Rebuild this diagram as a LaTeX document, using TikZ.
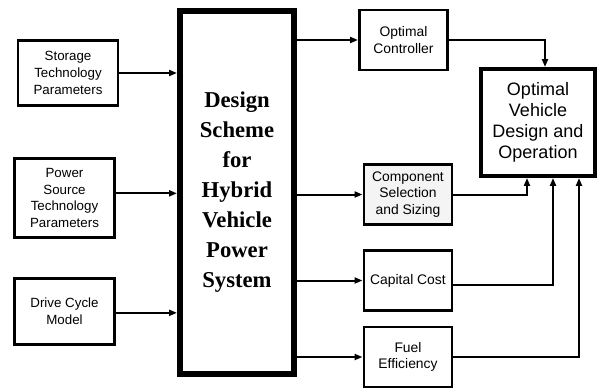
\documentclass[tikz,border=0pt]{standalone}
\usepackage{fontspec}
\setmainfont{Liberation Sans}
\newfontfamily\serifbold{Liberation Serif}
\usepackage{tikz}
\usetikzlibrary{arrows.meta, positioning, calc}
\definecolor{mydark}{RGB}{0,0,0}
\definecolor{mygrey}{RGB}{244,244,244}
\tikzset{
  inblock/.style={rectangle, draw=mydark, fill=white, line width=2.2pt,
    minimum width=75pt, align=center,
    font=\fontsize{10}{12.5}\selectfont, inner sep=0pt},
  outblock/.style={rectangle, draw=mydark, fill=white, line width=2.2pt,
    minimum width=66pt, minimum height=45pt, align=center,
    font=\fontsize{10.4}{12.5}\selectfont, inner sep=0pt},
  mainblock/.style={rectangle, draw=mydark, fill=white, line width=4.5pt,
    minimum width=85.5pt, minimum height=272pt, align=center,
    font=\serifbold\bfseries\fontsize{17}{22.5}\selectfont, inner sep=0pt},
  goalblock/.style={rectangle, draw=mydark, fill=white, line width=3.2pt,
    minimum width=85.5pt, minimum height=80pt, align=center,
    font=\fontsize{13.5}{15.8}\selectfont, inner sep=0pt},
  arrow/.style={-{Triangle[length=6pt,width=4.5pt]}, line width=1.5pt, color=mydark},
  line/.style={line width=1.5pt, color=mydark}
}

\begin{document}
\begin{tikzpicture}[x=0.75pt, y=-0.75pt]
  \useasboundingbox (0,0) rectangle (597,389);

  % Input blocks
  \node[inblock, minimum height=49pt] (stor) at (68,73) {Storage\\Technology\\Parameters};
  \node[inblock, minimum height=59pt] (pow) at (64.5,198) {Power\\Source\\Technology\\Parameters};
  \node[inblock, minimum height=49.5pt] (drv) at (64.5,311.5) {Drive Cycle\\Model};

  % Design scheme
  \node[mainblock] (main) at (237,192.5) {Design\\Scheme\\for\\Hybrid\\Vehicle\\Power\\System};

  % Output blocks
  \node[outblock] (ctrl) at (403.5,40) {Optimal\\Controller};
  \node[outblock, fill=mygrey] (comp) at (408,194.5) {Component\\Selection\\and Sizing};
  \node[outblock] (cost) at (408,280.5) {Capital Cost};
  \node[outblock] (fuel) at (408,357) {Fuel\\Efficiency};

  % Result
  \node[goalblock] (opt) at (538,122.5) {Optimal\\Vehicle\\Design and\\Operation};

  % Inputs to the scheme
  \draw[arrow] (stor.east) -- (stor.east -| main.west);
  \draw[arrow] ([yshift=3.5pt]pow.east) -- ([yshift=3.5pt]pow.east -| main.west);
  \draw[arrow] ([yshift=-1pt]drv.east) -- ([yshift=-1pt]drv.east -| main.west);

  % Scheme to outputs
  \foreach \n in {ctrl, comp, cost, fuel}
    \draw[arrow] (main.east |- \n.west) -- (\n.west);

  % Outputs to result
  \draw[arrow] (ctrl.east) -| ([xshift=5.25pt]opt.south |- opt.north);
  \draw[arrow] (comp.east) -| ([xshift=-8.25pt]opt.south);
  \draw[arrow] ([yshift=-3.5pt]cost.east) -| ([xshift=11.25pt]opt.south);
  \draw[arrow] (fuel.east) -| ([xshift=30.75pt]opt.south);
\end{tikzpicture}
\end{document}
